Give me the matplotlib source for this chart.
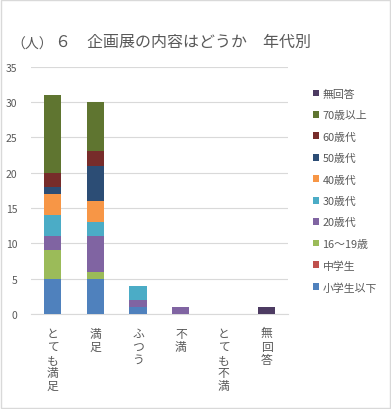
import numpy as np
import matplotlib
matplotlib.use('Agg')
import matplotlib.pyplot as plt
from matplotlib.patches import Rectangle

plt.rcParams['font.family'] = ['Noto Sans CJK JP', 'DejaVu Sans']

categories = ['とても満足', '満足', 'ふつう', '不満', 'とても不満', '無回答']
series_names = ['小学生以下', '中学生', '16～19歳', '20歳代', '30歳代',
                '40歳代', '50歳代', '60歳代', '70歳以上', '無回答']
colors = ['#4F81BD', '#C0504D', '#9BBB59', '#8064A2', '#4BACC6',
          '#F79646', '#2C4D75', '#772C2A', '#5F7530', '#4D3B62']

s_elem = [5, 5, 1, 0, 0, 0]
s_junior = [0, 0, 0, 0, 0, 0]
s_teen = [4, 1, 0, 0, 0, 0]
s_20s = [2, 5, 1, 1, 0, 0]
s_30s = [3, 2, 2, 0, 0, 0]
s_40s = [3, 3, 0, 0, 0, 0]
s_50s = [1, 5, 0, 0, 0, 0]
s_60s = [2, 2, 0, 0, 0, 0]
s_70s = [11, 7, 0, 0, 0, 0]
s_none = [0, 0, 0, 0, 0, 1]
values = [s_elem, s_junior, s_teen, s_20s, s_30s, s_40s, s_50s, s_60s, s_70s, s_none]

gray = '#595959'

fig = plt.figure(figsize=(3.91, 4.10), dpi=100)
ax = fig.add_axes([0.0793, 0.2317, 0.657, 0.6035])

x = np.arange(len(categories))
bottom = np.zeros(len(categories))
handles = []
for name, vals, c in zip(series_names, values, colors):
    b = ax.bar(x, vals, width=0.4, bottom=bottom, color=c, label=name, zorder=3)
    handles.append(b)
    bottom += np.array(vals)

ax.set_xlim(-0.5, len(categories) - 0.5)
ax.set_ylim(0, 35)
ax.set_yticks(range(0, 36, 5))
ax.yaxis.grid(True, color='#D9D9D9', linewidth=0.8, zorder=0)
for s in ['top', 'right', 'left']:
    ax.spines[s].set_visible(False)
ax.spines['bottom'].set_color('#D9D9D9')
ax.tick_params(axis='y', length=0, labelsize=7.5, labelcolor=gray, pad=10)
ax.tick_params(axis='x', length=0, pad=9)
ax.set_xticks(x)
ax.set_xticklabels(['\n'.join(c) for c in categories], fontsize=8.5,
                   color=gray, va='top', linespacing=1.02)

fig.text(0.03, 0.882, '（人）', fontsize=10, color=gray)
fig.text(0.14, 0.885, '６　企画展の内容はどうか　年代別', fontsize=11.5, color=gray)

leg = fig.legend(handles[::-1], series_names[::-1], loc='upper left',
                 bbox_to_anchor=(0.775, 0.805), frameon=False, fontsize=7.8,
                 handlelength=0.6, handleheight=0.6, handletextpad=0.3,
                 labelspacing=1.05, labelcolor=gray)

fig.patches.append(Rectangle((0.002, 0.002), 0.995, 0.995, transform=fig.transFigure,
                             fill=False, edgecolor='#D9D9D9', linewidth=1))

fig.savefig('out.png', dpi=100)
